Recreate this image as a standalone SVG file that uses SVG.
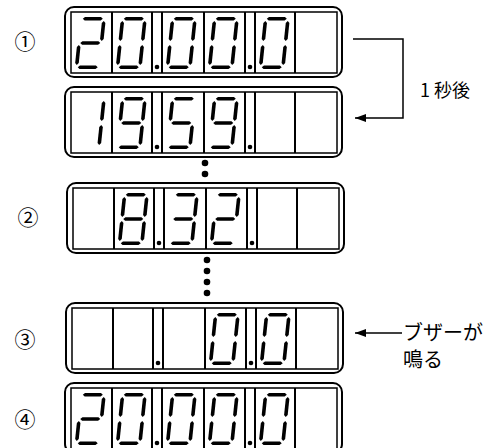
<svg xmlns="http://www.w3.org/2000/svg" xmlns:xlink="http://www.w3.org/1999/xlink" width="496" height="448" viewBox="0 0 496 448">
<style>
.outer{fill:#fff;stroke:#000;stroke-width:2}
.inner{fill:none;stroke:#000;stroke-width:1.5}
.div{stroke:#000;stroke-width:2}
.seg{fill:#000}
.conn{fill:none;stroke:#000;stroke-width:1.5}
.num{font-family:"Noto Sans CJK JP","DejaVu Sans",sans-serif;font-size:21px;fill:#000}
.lab{font-family:"Noto Sans CJK JP",sans-serif;font-size:18px;fill:#000}
.lab2{font-family:"Liberation Serif","Noto Sans CJK JP",serif;font-size:20px;fill:#000}
</style>
<defs>
<marker id="arr" viewBox="0 0 11 8" refX="11" refY="4" markerWidth="11" markerHeight="8" markerUnits="userSpaceOnUse" orient="auto">
<path d="M0,0 L11,4 L0,8 Z" fill="#000"/>
</marker>
<polygon id="sa" class="seg" points="3,1.8 5,0 21,0 23,1.8 21,3.6 5,3.6"/>
<polygon id="sg" class="seg" points="3,26 5,24.2 21,24.2 23,26 21,27.8 5,27.8"/>
<polygon id="sd" class="seg" points="3,50.2 5,48.4 21,48.4 23,50.2 21,52 5,52"/>
<polygon id="sf" class="seg" points="1.8,4 3.6,6 3.6,22 1.8,24 0,22 0,6"/>
<polygon id="sb" class="seg" points="24.2,4 26,6 26,22 24.2,24 22.4,22 22.4,6"/>
<polygon id="se" class="seg" points="1.8,28 3.6,30 3.6,46 1.8,48 0,46 0,30"/>
<polygon id="sc" class="seg" points="24.2,28 26,30 26,46 24.2,48 22.4,46 22.4,30"/>
<g id="n0" transform="skewX(-6)"><use href="#sa"/><use href="#sb"/><use href="#sc"/><use href="#sd"/><use href="#se"/><use href="#sf"/></g>
<g id="n1" transform="skewX(-6)"><use href="#sb"/><use href="#sc"/></g>
<g id="n2" transform="skewX(-6)"><use href="#sa"/><use href="#sb"/><use href="#sg"/><use href="#se"/><use href="#sd"/></g>
<g id="n3" transform="skewX(-6)"><use href="#sa"/><use href="#sb"/><use href="#sg"/><use href="#sc"/><use href="#sd"/></g>
<g id="n5" transform="skewX(-6)"><use href="#sa"/><use href="#sf"/><use href="#sg"/><use href="#sc"/><use href="#sd"/></g>
<g id="n8" transform="skewX(-6)"><use href="#sa"/><use href="#sb"/><use href="#sc"/><use href="#sd"/><use href="#se"/><use href="#sf"/><use href="#sg"/></g>
<g id="n9" transform="skewX(-6)"><use href="#sa"/><use href="#sb"/><use href="#sc"/><use href="#sd"/><use href="#sf"/><use href="#sg"/></g>
<g id="frame">
<rect class="outer" x="0" y="0" width="277" height="70" rx="9"/>
<rect class="inner" x="6" y="5" width="266" height="61"/>
<line class="div" x1="47" y1="5" x2="47" y2="66"/>
<line class="div" x1="87" y1="5" x2="87" y2="66"/>
<line class="div" x1="97" y1="5" x2="97" y2="66"/>
<line class="div" x1="139" y1="5" x2="139" y2="66"/>
<line class="div" x1="180" y1="5" x2="180" y2="66"/>
<line class="div" x1="190" y1="5" x2="190" y2="66"/>
<line class="div" x1="230" y1="5" x2="230" y2="66"/>
</g>
<circle id="dp" r="2.3" fill="#000"/>
</defs>

<g id="display1" transform="translate(65,7)">
<use href="#frame"/>
<use href="#n2" x="15" y="10"/><use href="#n0" x="56" y="10"/>
<use href="#dp" x="92" y="60"/>
<use href="#n0" x="106" y="10"/><use href="#n0" x="148" y="10"/>
<use href="#dp" x="185" y="60"/>
<use href="#n0" x="199" y="10"/>
</g>

<g id="display2" transform="translate(65,87)">
<use href="#frame"/>
<use href="#n1" x="15" y="10"/><use href="#n9" x="56" y="10"/>
<use href="#dp" x="92" y="60"/>
<use href="#n5" x="106" y="10"/><use href="#n9" x="148" y="10"/>
<use href="#dp" x="185" y="60"/>
</g>

<g id="display3" transform="translate(67,183)">
<use href="#frame"/>
<use href="#n8" x="56" y="10"/>
<use href="#dp" x="92" y="60"/>
<use href="#n3" x="106" y="10"/><use href="#n2" x="148" y="10"/>
<use href="#dp" x="185" y="60"/>
</g>

<g id="display4" transform="translate(66,303)">
<use href="#frame"/>
<use href="#dp" x="92" y="60"/>
<use href="#n0" x="148" y="10"/>
<use href="#dp" x="185" y="60"/>
<use href="#n0" x="199" y="10"/>
</g>

<g id="display5" transform="translate(65,383)">
<use href="#frame"/>
<use href="#n2" x="15" y="10"/><use href="#n0" x="56" y="10"/>
<use href="#dp" x="92" y="60"/>
<use href="#n0" x="106" y="10"/><use href="#n0" x="148" y="10"/>
<use href="#dp" x="185" y="60"/>
<use href="#n0" x="199" y="10"/>
</g>

<g id="ellipsis">
<circle cx="205" cy="163" r="3.3"/><circle cx="205" cy="174" r="3.3"/>
<circle cx="207" cy="260" r="3.3"/><circle cx="207" cy="271" r="3.3"/>
<circle cx="207" cy="282" r="3.3"/><circle cx="207" cy="293" r="3.3"/>
</g>

<g id="labels">
<text class="num" x="25" y="49" text-anchor="middle">①</text>
<text class="num" x="28" y="225" text-anchor="middle">②</text>
<text class="num" x="25" y="347" text-anchor="middle">③</text>
<text class="num" x="25" y="427" text-anchor="middle">④</text>
<text class="lab" x="420" y="97">1 秒後</text>
<text class="lab2" x="403" y="340">ブザーが</text>
<text class="lab2" x="403" y="367">鳴る</text>
</g>

<g id="connectors">
<path class="conn" d="M353,39 H403 V118 H355" marker-end="url(#arr)"/>
<path class="conn" d="M402,333 H355" marker-end="url(#arr)"/>
</g>
</svg>
